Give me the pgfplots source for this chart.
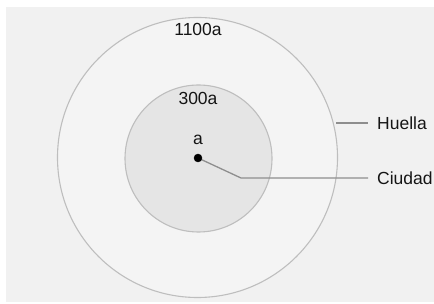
\documentclass[border=0pt]{standalone}
\usepackage{pgfplots}
\pgfplotsset{compat=1.18}
\usepackage{fontspec}
\setmainfont{Liberation Sans}
\definecolor{bgpanel}{HTML}{F1F1F1}
\definecolor{outerfill}{HTML}{F4F4F4}
\definecolor{innerfill}{HTML}{E5E5E5}
\definecolor{circstroke}{HTML}{BEBEBE}
\definecolor{leader}{HTML}{8E8E8E}
\definecolor{txt}{HTML}{151515}
\begin{document}
\begin{tikzpicture}
\begin{axis}[
  width=434bp, height=304bp, scale only axis,
  xmin=0, xmax=434, ymin=0, ymax=304,
  hide axis, clip=false,
]
% white page
\addplot[fill=white, draw=none] coordinates {(0,0) (434,0) (434,304) (0,304)} -- cycle;
% grey panel
\addplot[fill=bgpanel, draw=none] coordinates {(6,2) (434,2) (434,297) (6,297)} -- cycle;
% footprint (Huella) and city (300a) circles
\draw[circstroke, line width=1.1bp, fill=outerfill] (axis cs:197.5,146.5) circle[radius=140];
\draw[circstroke, line width=1.1bp, fill=innerfill] (axis cs:198.5,145.5) circle[radius=73.5];
% leader lines
\addplot[leader, line width=1.3bp] coordinates {(336,181) (368,181)};
\addplot[leader, line width=1.3bp] coordinates {(198,146) (241,126) (368,126)};
% city dot
\addplot[only marks, mark=*, mark size=4bp, mark options={fill=black, draw=black}] coordinates {(198,146)};
% labels
\node[txt, font=\fontsize{17.5bp}{20bp}\selectfont] at (axis cs:198,275) {1100a};
\node[txt, font=\fontsize{17.5bp}{20bp}\selectfont] at (axis cs:198,206) {300a};
\node[txt, font=\fontsize{17.5bp}{20bp}\selectfont] at (axis cs:198,164) {a};
\node[txt, anchor=west, inner sep=0pt, font=\fontsize{17.5bp}{20bp}\selectfont] at (axis cs:377,181) {Huella};
\node[txt, anchor=west, inner sep=0pt, font=\fontsize{17.5bp}{20bp}\selectfont] at (axis cs:377,126) {Ciudad};
\end{axis}
\end{tikzpicture}
\end{document}
